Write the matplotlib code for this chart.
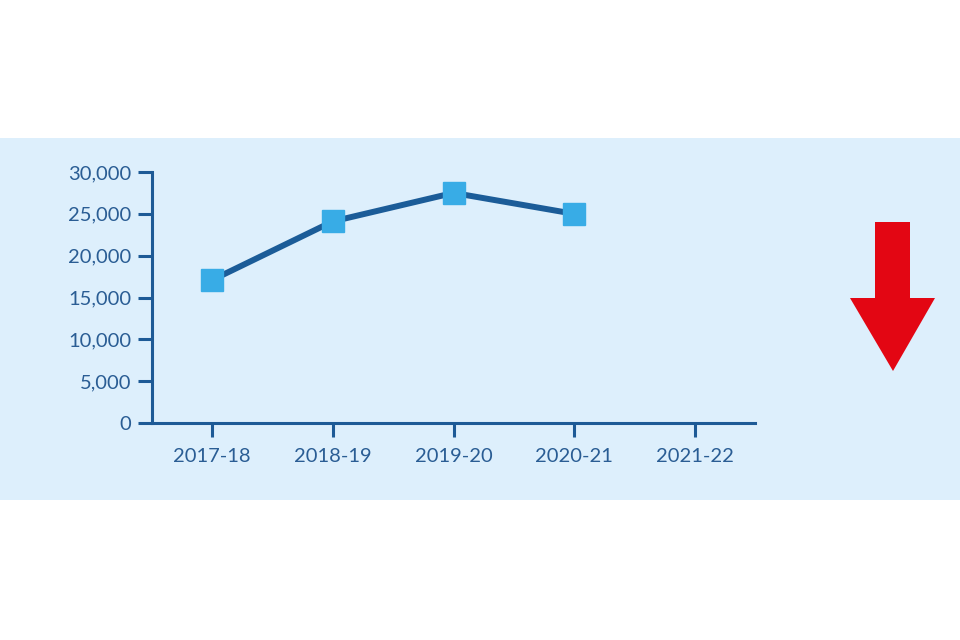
import matplotlib
matplotlib.use("Agg")
import matplotlib.pyplot as plt
from matplotlib.patches import Rectangle, Polygon
from matplotlib.ticker import FuncFormatter

# Data
categories = ["2017-18", "2018-19", "2019-20", "2020-21", "2021-22"]
values = [17100, 24100, 27500, 25000]
y_ticks = [0, 5000, 10000, 15000, 20000, 25000, 30000]

plt.rcParams['font.family'] = ['Lato', 'DejaVu Sans']

W, H = 960, 640
fig = plt.figure(figsize=(W / 100, H / 100), dpi=100)
fig.patch.set_facecolor('white')

# light blue panel
panel_col = '#DDEFFC'
fig.patches.append(Rectangle((0, 1 - 500 / H), 1, (500 - 138) / H,
                             transform=fig.transFigure, facecolor=panel_col,
                             edgecolor='none', zorder=-10))

ax = fig.add_axes([152 / W, 1 - 423 / H, (755 - 152) / W, (423 - 172) / H])
ax.set_facecolor('none')
ax.set_zorder(5)

axis_col = '#1D5A96'
label_col = '#2A5D94'
line_col = '#1B5C98'
marker_col = '#38ACE6'

x = list(range(len(values)))
ax.plot(x, values, color=line_col, lw=4.3, solid_capstyle='butt', zorder=2)
ax.plot(x, values, linestyle='none', marker='s', markersize=16,
        markerfacecolor=marker_col, markeredgecolor=marker_col, zorder=3)

ax.set_xlim(-0.5, len(categories) - 0.5)
ax.set_ylim(0, 30000)
ax.set_xticks(range(len(categories)))
ax.set_xticklabels(categories)
ax.set_yticks(y_ticks)
ax.yaxis.set_major_formatter(FuncFormatter(lambda v, p: f"{int(v):,}"))

for s in ['top', 'right']:
    ax.spines[s].set_visible(False)
for s in ['left', 'bottom']:
    ax.spines[s].set_color(axis_col)
    ax.spines[s].set_linewidth(2.2)
ax.spines['bottom'].set_capstyle('projecting')

ax.tick_params(axis='both', direction='out', color=axis_col, width=2.2,
               length=10, labelcolor=label_col, labelsize=14.5)
ax.tick_params(axis='y', pad=5)
ax.tick_params(axis='x', pad=8)

# red down arrow (decoration)
arrow_px = [(875, 222), (910, 222), (910, 298), (935, 298), (893, 371),
            (850, 298), (875, 298)]
arrow = Polygon([(px / W, 1 - py / H) for px, py in arrow_px],
                closed=True, transform=fig.transFigure,
                facecolor='#E30613', edgecolor='none', zorder=6)
fig.patches.append(arrow)

fig.savefig('out.png', dpi=100, facecolor='white')
